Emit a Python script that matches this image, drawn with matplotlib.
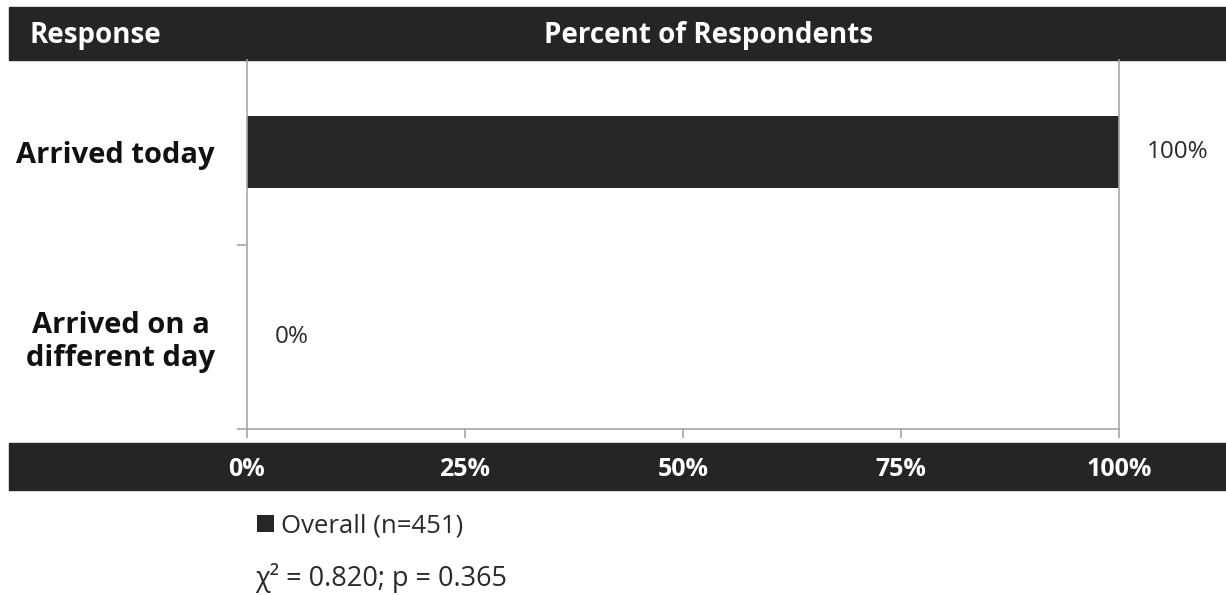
import matplotlib
matplotlib.use("Agg")
import matplotlib.pyplot as plt
from matplotlib.patches import Rectangle

plt.rcParams['font.family'] = ['Open Sans', 'DejaVu Sans']

categories = ["Arrived today", "Arrived on a\ndifferent day"]
values = [100, 0]
value_labels = ["100%", "0%"]
xticks = [0, 25, 50, 75, 100]
xtick_labels = ["0%", "25%", "50%", "75%", "100%"]
series_name = "Overall (n=451)"
stat_text = "χ² = 0.820; p = 0.365"
header_left = "Response"
header_center = "Percent of Respondents"

W, H = 1226, 595
fig = plt.figure(figsize=(W / 100, H / 100), dpi=100)
fig.patch.set_facecolor("white")

def fx(px):
    return px / W

def fy(py):
    return 1 - py / H

dark = "#252525"
grey = "#a6a6a6"

# bands
fig.patches.append(Rectangle((fx(9), fy(60)), 1 - fx(9), fy(7) - fy(60),
                             transform=fig.transFigure, color=dark, zorder=-5))
fig.patches.append(Rectangle((fx(9), fy(490)), 1 - fx(9), fy(443) - fy(490),
                             transform=fig.transFigure, color=dark, zorder=-5))

fig.text(fx(30), fy(35), header_left, color="white", fontweight="bold",
         fontsize=20, ha="left", va="center")
fig.text(fx(708), fy(35), header_center, color="white", fontweight="bold",
         fontsize=20, ha="center", va="center")

ax = fig.add_axes([fx(247), fy(429), fx(1119) - fx(247), fy(60) - fy(429)])
ax.set_facecolor("none")
ax.set_zorder(2)
ypos = list(range(len(categories)))
bars = ax.barh(ypos, values, height=0.39, color="#262626", label=series_name)
ax.set_xlim(0, 100)
ax.set_ylim(len(categories) - 0.5, -0.5)

ax.spines["top"].set_visible(False)
for sp in ["left", "right", "bottom"]:
    ax.spines[sp].set_color(grey)
    ax.spines[sp].set_linewidth(1.2)

ax.set_xticks(xticks)
ax.set_xticklabels(xtick_labels, color="white", fontweight="bold", fontsize=18)
ax.tick_params(axis="x", length=6.5, width=1.2, color=grey, pad=14)

ax.set_yticks(ypos)
ax.set_yticklabels(categories, fontweight="bold", fontsize=21,
                   multialignment="center", color="#111111", linespacing=1.15)
ax.tick_params(axis="y", which="major", length=0, pad=23)
ax.set_yticks([0.5, 1.5], minor=True)
ax.tick_params(axis="y", which="minor", length=7, width=1.2, color=grey)

for y, v, lab in zip(ypos, values, value_labels):
    ax.annotate(lab, xy=(v, y), xytext=(20, 0), textcoords="offset points",
                ha="left", va="center", fontsize=17.5, color="#2a2a2a",
                annotation_clip=False)

leg = fig.legend(handles=[bars], labels=[series_name], loc="center left",
                 bbox_to_anchor=(fx(257), fy(526)), frameon=False, fontsize=18.5,
                 handlelength=0.65, handleheight=0.65, handletextpad=0.3,
                 borderpad=0, borderaxespad=0)
for t in leg.get_texts():
    t.set_color("#2a2a2a")

fig.text(fx(255), fy(578), stat_text, fontsize=19.5, ha="left", va="center",
         color="#2a2a2a")

fig.savefig("out.png", dpi=100)
